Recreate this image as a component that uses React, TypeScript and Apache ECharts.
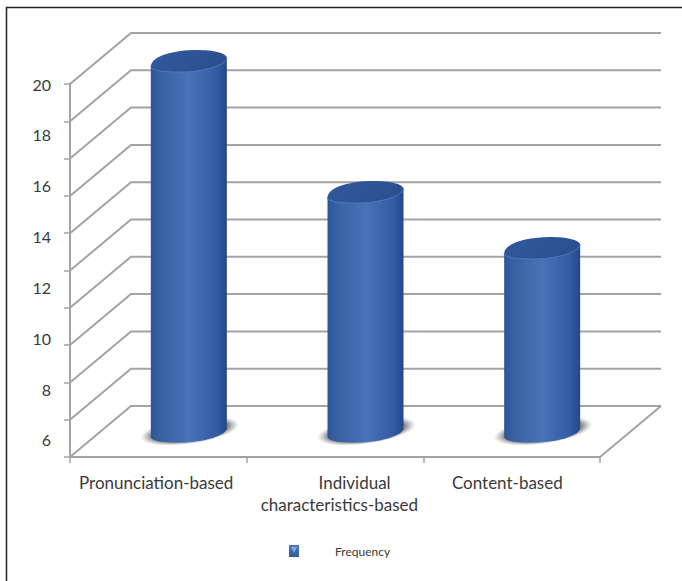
import React, { useEffect, useRef } from "react";
import * as echarts from "echarts";

const categories = [
  "Pronunciation-based ",
  "         Individual\n  characteristics-based",
  "Content-based  ",
];
const seriesName = "Frequency";
const frequency = [19.9, 14.75, 12.55];
const yLabels = [6, 8, 10, 12, 14, 16, 18, 20];
const axisFloor = 5.33;
const axisTop = 20;
const wallLineCount = 11;
const wallValues = Array.from(
  { length: wallLineCount },
  (_, i) => axisFloor + (i * (axisTop - axisFloor)) / (wallLineCount - 1)
);

// Oblique depth of the chart box, in pixels
const depthX = 61;
const depthY = -51;
const lineColor = "#a3a3a3";
const textColor = "#3a3a3a";

const bodyFill = () =>
  new echarts.graphic.LinearGradient(0, 0, 1, 0, [
    { offset: 0, color: "#2b559a" },
    { offset: 0.1, color: "#35619f" },
    { offset: 0.5, color: "#4a72b8" },
    { offset: 0.86, color: "#345ca2" },
    { offset: 1, color: "#214888" },
  ]);

const capFill = () =>
  new echarts.graphic.LinearGradient(0, 0, 1, 0.4, [
    { offset: 0, color: "#2f5a9e" },
    { offset: 0.5, color: "#2e5596" },
    { offset: 1, color: "#2a4f8e" },
  ]);

const shadowFill = () =>
  new echarts.graphic.RadialGradient(0.5, 0.5, 0.5, [
    { offset: 0, color: "rgba(90,90,90,0.95)" },
    { offset: 0.78, color: "rgba(110,110,110,0.8)" },
    { offset: 1, color: "rgba(160,160,160,0)" },
  ]);

// Back wall and floor: each line leaves the front axis, runs back in depth, then across
const renderWalls = (params: any, api: any) => {
  const value = api.value(0);
  const rect = params.coordSys;
  const y = api.coord([0, value])[1];
  const left = rect.x;
  const right = rect.x + rect.width;
  const children: any[] = [
    {
      type: "polyline",
      shape: {
        points: [
          [left, y],
          [left + depthX, y + depthY],
          [right + depthX, y + depthY],
        ],
      },
      style: { fill: "none", stroke: lineColor, lineWidth: 2 },
    },
  ];
  if (params.dataIndex === 0) {
    children.push({
      type: "line",
      shape: { x1: right, y1: y, x2: right + depthX, y2: y + depthY },
      style: { stroke: lineColor, lineWidth: 2 },
    });
  }
  return { type: "group", children };
};

// Front half of the tilted rim, running from its right end to its left end
const frontRim = (cx: number, cy: number) =>
  `C${cx + 37} ${cy + 4} ${cx + 15} ${cy + 11} ${cx - 8} ${cy + 11}` +
  `C${cx - 25} ${cy + 11} ${cx - 38} ${cy + 10} ${cx - 38} ${cy + 5}`;

// One cylinder standing mid-way back on the floor
const renderCylinder = (_params: any, api: any) => {
  const base = api.coord([api.value(0), axisFloor]);
  const top = api.coord([api.value(0), api.value(1)]);
  const cx = base[0] + depthX / 2;
  const baseY = base[1] + depthY / 2;
  const topY = top[1] + depthY / 2;
  const body =
    `M${cx - 38} ${topY + 5}L${cx - 38} ${baseY + 5}` +
    `C${cx - 38} ${baseY + 10} ${cx - 25} ${baseY + 11} ${cx - 8} ${baseY + 11}` +
    `C${cx + 15} ${baseY + 11} ${cx + 37} ${baseY + 4} ${cx + 38} ${baseY - 3}` +
    `L${cx + 38} ${topY - 3}Z`;
  const cap =
    `M${cx - 38} ${topY + 5}` +
    `C${cx - 37} ${topY - 5} ${cx - 15} ${topY - 11} ${cx + 8} ${topY - 11}` +
    `C${cx + 25} ${topY - 11} ${cx + 38} ${topY - 8} ${cx + 38} ${topY - 3}` +
    frontRim(cx, topY) +
    "Z";
  const rim = `M${cx + 38} ${topY - 3}` + frontRim(cx, topY);
  return {
    type: "group",
    children: [
      {
        type: "ellipse",
        x: cx + 1,
        y: baseY - 0.5,
        rotation: (8 * Math.PI) / 180,
        shape: { cx: 0, cy: 0, rx: 50, ry: 13 },
        style: { fill: shadowFill() },
      },
      {
        type: "path",
        shape: { pathData: body, layout: "none" },
        style: { fill: bodyFill() },
      },
      {
        type: "path",
        shape: { pathData: cap, layout: "none" },
        style: { fill: capFill() },
      },
      {
        type: "path",
        shape: { pathData: rim, layout: "none" },
        style: { fill: "none", stroke: "#4d78bb", lineWidth: 1 },
      },
    ],
  };
};

export default function App() {
  const ref = useRef<HTMLDivElement>(null);

  useEffect(() => {
    document.body.style.margin = "0";
    document.body.style.overflow = "hidden";
    const chart = echarts.init(ref.current!, null, { renderer: "svg" });
    chart.setOption({
      animation: false,
      backgroundColor: "#ffffff",
      textStyle: { fontFamily: "Lato" },
      grid: { left: 70, right: 82, top: 84, bottom: 124 },
      legend: {
        data: [{ name: seriesName, icon: "rect" }],
        left: 284,
        top: 540,
        itemWidth: 10,
        itemHeight: 12,
        itemGap: 0,
        itemStyle: {
          color: new echarts.graphic.LinearGradient(0, 0, 0, 1, [
            { offset: 0, color: "#4f78bb" },
            { offset: 1, color: "#2f5a9e" },
          ]),
        },
        textStyle: { fontSize: 12, color: textColor, padding: [0, 0, 0, 31], fontFamily: "Lato" },
      },
      xAxis: {
        type: "category",
        data: categories,
        axisLine: { lineStyle: { color: lineColor, width: 2 } },
        axisTick: { show: true, alignWithLabel: false, length: 6, lineStyle: { color: lineColor, width: 1.5 } },
        axisLabel: { interval: 0, fontSize: 17, color: textColor, margin: 14, lineHeight: 22 },
        splitLine: { show: false },
      },
      yAxis: {
        type: "value",
        min: axisFloor,
        max: axisTop,
        axisLine: { show: true, lineStyle: { color: lineColor, width: 2 } },
        axisTick: {
          show: true,
          length: 6,
          customValues: wallValues,
          lineStyle: { color: lineColor, width: 1.5 },
        },
        axisLabel: { fontSize: 16, color: textColor, margin: 19, customValues: yLabels },
        splitLine: { show: false },
      },
      series: [
        {
          type: "custom",
          silent: true,
          renderItem: renderWalls,
          data: wallValues.map((v) => [v]),
          encode: { y: 0 },
          legendHoverLink: false,
          z: 1,
        },
        {
          type: "custom",
          name: seriesName,
          renderItem: renderCylinder,
          data: frequency.map((v, i) => [i, v]),
          encode: { x: 0, y: 1 },
          z: 3,
        },
      ],
      graphic: [
        {
          type: "polyline",
          shape: { points: [[6.5, 581], [6.5, 7.5], [682, 7.5]] },
          style: { fill: "none", stroke: "#222222", lineWidth: 1.5 },
        },
        {
          type: "polygon",
          z: 100,
          shape: { points: [[291, 547], [297, 547], [294, 553]] },
          style: { fill: "#86a5d8" },
        },
      ],
    });
    return () => chart.dispose();
  }, []);

  return <div ref={ref} style={{ position: "absolute", left: 0, top: 0, width: 682, height: 581 }} />;
}
